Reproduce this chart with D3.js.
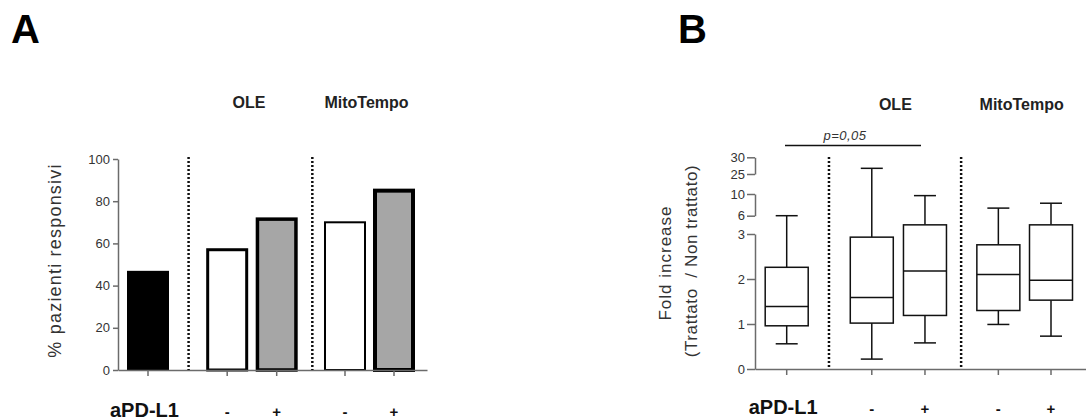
<!DOCTYPE html>
<html>
<head>
<meta charset="utf-8">
<script src="https://cdn.jsdelivr.net/npm/d3@7"></script>
<style>
  body { margin: 0; background: #fff; }
  svg { font-family: "Liberation Sans", Arial, sans-serif; }
</style>
</head>
<body>
<div id="chart"></div>
<script>
// data
const groups = ['', 'OLE', 'MitoTempo'];
const treatLabels = ['', '-', '+', '-', '+'];
const barValues = [47, 57, 71.5, 70, 85];
const barFills = ['#000000', '#ffffff', '#a6a6a6', '#ffffff', '#a6a6a6'];
const ticksA = [0, 20, 40, 60, 80, 100];

const boxLow = [0.56, 0.22, 0.58, 0.99, 0.73];
const boxQ1 = [0.96, 1.02, 1.19, 1.3, 1.53];
const boxMed = [1.39, 1.59, 2.18, 2.1, 1.97];
const boxQ3 = [2.26, 2.93, 4.5, 2.76, 4.5];
const boxHigh = [6, 26.7, 9.7, 7.4, 8.3];
const ticksB = [0, 1, 2, 3, 6, 10, 25, 30];
const axisSegmentsB = [[0, 3], [6, 10], [25, 30]];
const pText = 'p=0,05';

const width = 1086, height = 420;
const svg = d3.select('#chart').append('svg')
    .attr('width', width)
    .attr('height', height);

// layout
const slots = [0, 1.6, 2.6, 3.98, 4.97];
const dividers = [0.82, 3.32];
const axisGray = '#6b6b6b';
const textGray = '#333';

// ---------- panel A ----------
const xA = d3.scaleLinear().domain([0, 4.97]).range([148, 394]);
const yA = d3.scaleLinear().domain([0, 100]).range([370, 159]);
const barW = 42;
const barStroke = [0, 3, 3.5, 2, 4];

svg.append('text').attr('x', 11).attr('y', 43)
    .style('font-size', '40px').style('font-weight', 'bold').text('A');

const gA = svg.append('g');

gA.selectAll('rect.bar').data(barValues).enter().append('rect')
    .attr('class', 'bar')
    .attr('x', (d, i) => xA(slots[i]) - barW / 2 + barStroke[i] / 2)
    .attr('y', d => yA(d))
    .attr('width', (d, i) => barW - barStroke[i])
    .attr('height', d => yA(0) - yA(d))
    .style('fill', (d, i) => barFills[i])
    .style('stroke', '#000')
    .style('stroke-width', (d, i) => barStroke[i]);

const yAxisA = gA.append('g')
    .attr('transform', 'translate(118,0)')
    .call(d3.axisLeft(yA).tickValues(ticksA).tickSize(5).tickSizeOuter(0).tickPadding(3));
yAxisA.select('.domain').style('stroke', axisGray).style('stroke-width', 1.5);
yAxisA.selectAll('.tick line').style('stroke', axisGray).style('stroke-width', 1.5);
yAxisA.selectAll('.tick text').style('font-size', '13px').style('fill', textGray);

const xAxisA = gA.append('g')
    .attr('transform', `translate(0,${yA(0)})`)
    .call(d3.axisBottom(d3.scaleLinear().domain([0, 1]).range([118, 427]))
        .tickValues([]).tickSizeOuter(0));
xAxisA.select('.domain').style('stroke', axisGray).style('stroke-width', 1.5);
gA.selectAll('line.xt').data(slots).enter().append('line')
    .attr('x1', d => xA(d)).attr('x2', d => xA(d))
    .attr('y1', yA(0)).attr('y2', yA(0) + 6)
    .style('stroke', axisGray).style('stroke-width', 1.5);

dividers.forEach(s => {
    gA.append('line').attr('x1', xA(s)).attr('x2', xA(s))
        .attr('y1', 157).attr('y2', yA(0))
        .style('stroke', '#111').style('stroke-width', 2.5)
        .style('stroke-dasharray', '2,2');
});

svg.append('text')
    .attr('transform', `translate(61,${(159 + 370) / 2 - 4}) rotate(-90)`)
    .style('text-anchor', 'middle').style('font-size', '18px').style('fill', textGray)
    .style('letter-spacing', '1.2px')
    .text('% pazienti responsivi');

// ---------- panel B ----------
const xB = d3.scaleLinear().domain([0, 4.97]).range([786.7, 1051]);
const yB = d3.scaleLinear().domain([0, 3, 6, 10, 25, 30])
    .range([369, 234, 215.7, 194, 174, 157.3]);
const boxW = 43;

svg.append('text').attr('x', 678).attr('y', 43)
    .style('font-size', '40px').style('font-weight', 'bold').text('B');

const gB = svg.append('g');

axisSegmentsB.forEach(seg => {
    const s = d3.scaleLinear().domain(seg).range([yB(seg[0]), yB(seg[1])]);
    const ax = gB.append('g').attr('transform', 'translate(755,0)')
        .call(d3.axisLeft(s).tickValues(ticksB.filter(t => t >= seg[0] && t <= seg[1]))
            .tickFormat(d3.format('d'))
            .tickSize(8).tickSizeOuter(0).tickPadding(2));
    ax.select('.domain').style('stroke', axisGray).style('stroke-width', 1.5);
    ax.selectAll('.tick line').style('stroke', axisGray).style('stroke-width', 1.5);
    ax.selectAll('.tick text').style('font-size', '13px').style('fill', textGray);
});

const xAxisB = gB.append('g')
    .attr('transform', `translate(0,${yB(0)})`)
    .call(d3.axisBottom(d3.scaleLinear().domain([0, 1]).range([755, 1086]))
        .tickValues([]).tickSizeOuter(0));
xAxisB.select('.domain').style('stroke', axisGray).style('stroke-width', 1.5);
gB.selectAll('line.xt').data(slots).enter().append('line')
    .attr('x1', d => xB(d)).attr('x2', d => xB(d))
    .attr('y1', yB(0)).attr('y2', yB(0) + 6)
    .style('stroke', axisGray).style('stroke-width', 1.5);

[0.795, 3.28].forEach(s => {
    gB.append('line').attr('x1', xB(s)).attr('x2', xB(s))
        .attr('y1', 157).attr('y2', yB(0))
        .style('stroke', '#111').style('stroke-width', 2.5)
        .style('stroke-dasharray', '2,2');
});

const boxes = boxMed.map((m, i) => ({
    x: xB(slots[i]), low: boxLow[i], q1: boxQ1[i], med: m, q3: boxQ3[i], high: boxHigh[i]
}));
const bx = gB.selectAll('g.box').data(boxes).enter().append('g').attr('class', 'box')
    .style('stroke', '#111').style('stroke-width', 1.5).style('fill', 'none');
bx.append('line').attr('x1', d => d.x).attr('x2', d => d.x)
    .attr('y1', d => yB(d.low)).attr('y2', d => yB(d.q1));
bx.append('line').attr('x1', d => d.x).attr('x2', d => d.x)
    .attr('y1', d => yB(d.q3)).attr('y2', d => yB(d.high));
bx.append('line').attr('x1', d => d.x - 11).attr('x2', d => d.x + 11)
    .attr('y1', d => yB(d.low)).attr('y2', d => yB(d.low));
bx.append('line').attr('x1', d => d.x - 11).attr('x2', d => d.x + 11)
    .attr('y1', d => yB(d.high)).attr('y2', d => yB(d.high));
bx.append('rect')
    .attr('x', d => d.x - boxW / 2).attr('width', boxW)
    .attr('y', d => yB(d.q3)).attr('height', d => yB(d.q1) - yB(d.q3))
    .style('fill', '#fff');
bx.append('line').attr('x1', d => d.x - boxW / 2).attr('x2', d => d.x + boxW / 2)
    .attr('y1', d => yB(d.med)).attr('y2', d => yB(d.med));

// significance bar
gB.append('line').attr('x1', 785).attr('x2', 921).attr('y1', 145.5).attr('y2', 145.5)
    .style('stroke', '#111').style('stroke-width', 1.3);
gB.append('text').attr('x', 845).attr('y', 140)
    .style('text-anchor', 'middle').style('font-size', '13px').style('font-style', 'italic')
    .style('letter-spacing', '0.5px')
    .style('fill', textGray).text(pText);

svg.append('text')
    .attr('transform', `translate(671,263) rotate(-90)`)
    .style('text-anchor', 'middle').style('font-size', '17px').style('fill', textGray)
    .style('letter-spacing', '1px')
    .text('Fold increase');
svg.append('text')
    .attr('transform', `translate(697,261) rotate(-90)`)
    .style('text-anchor', 'middle').style('font-size', '17px').style('fill', textGray)
    .style('letter-spacing', '0.6px')
    .attr('xml:space', 'preserve')
    .text('(Trattato  / Non trattato)');

// ---------- headers and treatment row ----------
[[xA, 108, 417], [xB, 110, 414]].forEach(([x, hy, ly]) => {
    const hx = [null, (x(slots[1]) + x(slots[2])) / 2, (x(slots[3]) + x(slots[4])) / 2];
    groups.forEach((g, i) => {
        if (!g) return;
        svg.append('text').attr('x', hx[i] - 3).attr('y', hy)
            .style('text-anchor', 'middle').style('font-size', '16px')
            .style('font-weight', 'bold').style('fill', '#222').text(g);
    });
    svg.append('text').attr('x', x(slots[0]) - 38).attr('y', ly)
        .style('font-size', '20px').style('font-weight', 'bold').style('fill', '#111')
        .text('aPD-L1');
    treatLabels.forEach((t, i) => {
        if (!t) return;
        svg.append('text').attr('x', x(slots[i])).attr('y', ly)
            .style('text-anchor', 'middle').style('font-size', '15px')
            .style('font-weight', 'bold').style('fill', '#111').text(t);
    });
});
</script>
</body>
</html>
